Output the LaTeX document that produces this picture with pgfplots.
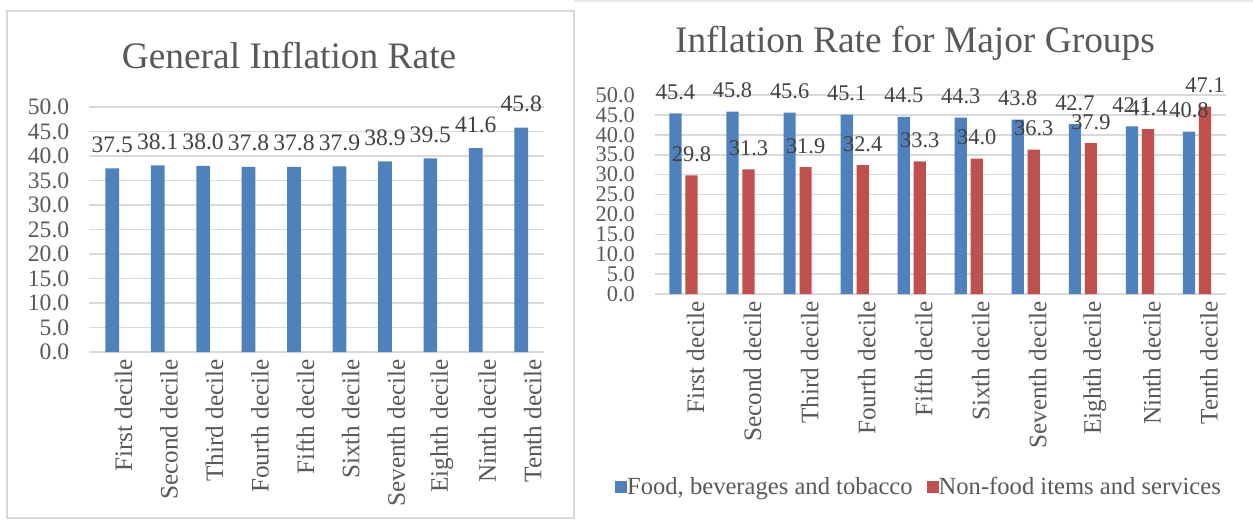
\documentclass[border=0pt]{standalone}
\usepackage{fontspec}
\setmainfont{Liberation Serif}
\usepackage{pgfplots}
\pgfplotsset{compat=1.18}
\definecolor{cblue}{HTML}{4F81BD}
\definecolor{cred}{HTML}{C0504D}
\definecolor{cgrid}{HTML}{D9D9D9}
\definecolor{ctext}{HTML}{595959}
\definecolor{clabel}{HTML}{404040}
\pgfplotsset{
  common/.style={
    scale only axis, clip=false,
    xmin=-0.5, xmax=9.5, ymin=0, ymax=50,
    ytick={0,5,...,50},
    xtick={0,...,9},
    xticklabels={First decile,Second decile,Third decile,Fourth decile,Fifth decile,Sixth decile,Seventh decile,Eighth decile,Ninth decile,Tenth decile},
    axis line style={draw=none},
    major tick length=0pt,
    ymajorgrids, grid style={cgrid, line width=0.8pt},
    /pgf/number format/assume math mode=true,
    /pgf/number format/fixed,
    /pgf/number format/fixed zerofill,
    /pgf/number format/precision=1,
    y tick label style={text=ctext},
    x tick label style={rotate=90, anchor=east, font=\fontsize{12.6}{14}\selectfont, text=ctext},
    nodes near coords,
    every node near coord/.append style={text=clabel, anchor=south, inner sep=0pt},
    every axis title/.style={font=\fontsize{18.7}{21}\selectfont, text=ctext, anchor=center},
  }
}
\begin{document}
\begin{tikzpicture}
\path[use as bounding box] (0,0) rectangle (626.5pt,-260pt);
\draw[cgrid, line width=1pt] (3.25pt,-5.5pt) rectangle (287pt,-259pt);
\draw[cgrid!60, line width=0.6pt] (287pt,-0.5pt) -- (626.5pt,-0.5pt);

\begin{axis}[common,
  at={(44.75pt,-176pt)}, anchor=south west,
  width=227.25pt, height=122.5pt,
  ybar, bar width=6.85pt,
  yticklabel style={xshift=-6.6pt, font=\fontsize{11.8}{13}\selectfont},
  xticklabel style={yshift=-5.7pt},
  every node near coord/.append style={yshift=7.6pt, font=\fontsize{11.8}{13}\selectfont},
  title={General Inflation Rate},
  title style={at={(axis description cs:0.439,1.212)}},
]
\addplot[fill=cblue, draw=none] coordinates {
(0,37.5) (1,38.1) (2,38.0) (3,37.8) (4,37.8) (5,37.9) (6,38.9) (7,39.5) (8,41.6) (9,45.8)};
\end{axis}

\begin{axis}[common,
  at={(327.5pt,-147pt)}, anchor=south west,
  width=285.25pt, height=99.5pt,
  ybar=1.9pt, bar width=6.1pt,
  yticklabel style={xshift=-6.5pt, font=\fontsize{11.2}{13}\selectfont},
  xticklabel style={yshift=-6pt},
  every node near coord/.append style={yshift=6.6pt, font=\fontsize{11.2}{13}\selectfont},
  title={Inflation Rate for Major Groups},
  title style={at={(axis description cs:0.4557,1.261)}},
  legend style={at={(axis description cs:0.4645,-0.97)}, anchor=center, draw=none,
    font=\fontsize{12.3}{14}\selectfont, text=ctext, legend columns=2,
    /tikz/every even column/.append style={column sep=5pt},
    /tikz/every odd column/.append style={column sep=-2pt}},
  legend image code/.code={\fill[#1] (0pt,-3pt) rectangle (6pt,3pt);},
]
\addplot[fill=cblue, draw=none] coordinates {
(0,45.4) (1,45.8) (2,45.6) (3,45.1) (4,44.5) (5,44.3) (6,43.8) (7,42.7) (8,42.1) (9,40.8)};
\addlegendentry{Food, beverages and tobacco}
\addplot[fill=cred, draw=none] coordinates {
(0,29.8) (1,31.3) (2,31.9) (3,32.4) (4,33.3) (5,34.0) (6,36.3) (7,37.9) (8,41.4) (9,47.1)};
\addlegendentry{Non-food items and services}
\end{axis}
\end{tikzpicture}
\end{document}
